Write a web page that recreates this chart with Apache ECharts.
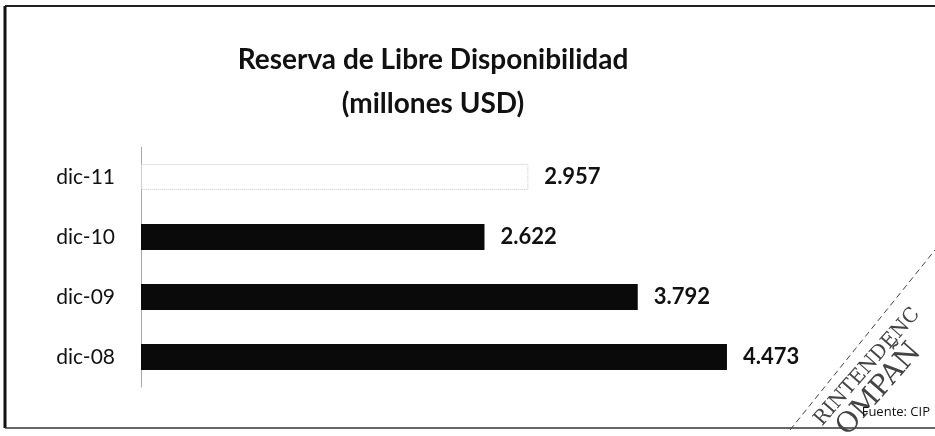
<!DOCTYPE html>
<html><head><meta charset="utf-8">
<script src="https://cdn.jsdelivr.net/npm/echarts@6/dist/echarts.min.js"></script>
<style>html,body{margin:0;padding:0;background:#fff}#c{width:935px;height:436px}</style>
</head><body><div id="c"></div>
<script>
const categories = ['dic-08', 'dic-09', 'dic-10', 'dic-11'];
const values = [4473, 3792, 2622, 2957];
const valueLabels = ['4.473', '3.792', '2.622', '2.957'];
const titleLines = ['Reserva de Libre Disponibilidad', '(millones USD)'];
const sourceText = 'Fuente: CIP';

const barStyles = [
  {color: '#0a0a0a'},
  {color: '#0a0a0a'},
  {color: '#0a0a0a'},
  {color: '#ffffff', borderColor: '#c8c8c8', borderWidth: 1, borderType: 'dotted'}
];

const chart = echarts.init(document.getElementById('c'));
chart.setOption({
  animation: false,
  backgroundColor: '#fff',
  title: {
    text: titleLines.join('\n'),
    left: 428, top: 33, textAlign: 'center',
    textStyle: {fontFamily: 'Lato', fontWeight: 'bold', fontSize: 28, lineHeight: 44, color: '#111'}
  },
  grid: {left: 141, right: 139, top: 147, bottom: 49},
  xAxis: {type: 'value', min: 0, max: 5000, show: false},
  yAxis: {
    type: 'category', data: categories,
    axisLine: {show: true, lineStyle: {color: '#aaa', width: 1}},
    axisTick: {show: false},
    axisLabel: {fontFamily: 'Lato', fontSize: 21, color: '#111', margin: 26}
  },
  series: [{
    type: 'bar', barWidth: 26,
    data: values.map((v, i) => ({value: v, itemStyle: barStyles[i]})),
    label: {
      show: true, position: 'right', distance: 16,
      formatter: p => valueLabels[p.dataIndex],
      fontFamily: 'Lato', fontWeight: 'bold', fontSize: 22, color: '#111'
    }
  }],
  graphic: [
    {type: 'line', shape: {x1: 5, y1: 6, x2: 935, y2: 6}, style: {stroke: '#222', lineWidth: 2}},
    {type: 'line', shape: {x1: 5, y1: 6, x2: 5, y2: 428}, style: {stroke: '#111', lineWidth: 3}},
    {type: 'line', shape: {x1: 5, y1: 428, x2: 935, y2: 428}, style: {stroke: '#333', lineWidth: 1.5}},
    {type: 'line', shape: {x1: 790, y1: 430, x2: 935, y2: 250}, style: {stroke: '#444', lineWidth: 1, lineDash: [6, 4]}},
    {type: 'text', x: 818, y: 423, rotation: 0.85, style: {text: 'RINTENDENC', font: '20px "DejaVu Serif"', fill: '#444', textVerticalAlign: 'middle'}},
    {type: 'text', x: 842, y: 432, rotation: 0.85, style: {text: 'OMPAÑ', font: '28px "DejaVu Serif"', fill: '#444', textVerticalAlign: 'middle'}},
    {type: 'text', x: 930, y: 412, style: {text: sourceText, font: '13px "Open Sans"', fill: '#111', textAlign: 'right', textVerticalAlign: 'middle'}}
  ]
});
</script></body></html>
